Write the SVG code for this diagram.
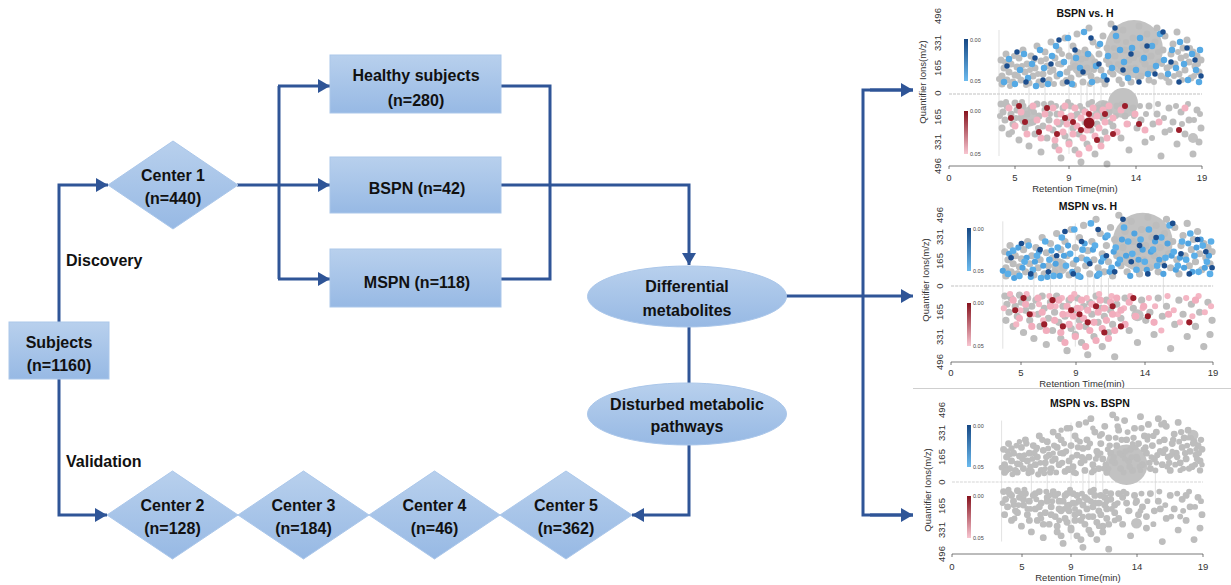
<svg xmlns="http://www.w3.org/2000/svg" width="1231" height="585" viewBox="0 0 1231 585">
<style>
.t{font-family:"Liberation Sans",Arial,sans-serif;font-weight:bold;font-size:16px;fill:#111;text-anchor:middle}
.lab{font-family:"Liberation Sans",Arial,sans-serif;font-weight:bold;font-size:16px;fill:#111}
.node{fill:url(#gb);stroke:#abc7ea;stroke-width:1}
.con{fill:none;stroke:#2F5597;stroke-width:3}
.arr{marker-end:url(#ah)}
.ax{font-family:"Liberation Sans",Arial,sans-serif;font-size:9.5px;fill:#333;text-anchor:middle}
.ttl{font-family:"Liberation Sans",Arial,sans-serif;font-weight:bold;font-size:10.5px;fill:#111;text-anchor:middle}
.cb{font-family:"Liberation Sans",Arial,sans-serif;font-size:5.5px;fill:#444}
.axl{stroke:#555;stroke-width:0.8;fill:none}
.zero{stroke:#d6d6d6;stroke-width:1.3;stroke-dasharray:3 1}
.vl{stroke:#d4d4d4;stroke-width:0.7}
.dot{fill:none;stroke-linecap:round}
.big{fill:#c2c2c2}
</style>
<defs>
<linearGradient id="gb" x1="0" y1="0" x2="0" y2="1"><stop offset="0" stop-color="#b8d0ed"/><stop offset="1" stop-color="#97b9e4"/></linearGradient>
<linearGradient id="cbb" x1="0" y1="0" x2="0" y2="1"><stop offset="0" stop-color="#164884"/><stop offset="1" stop-color="#6cbbef"/></linearGradient>
<linearGradient id="cbr" x1="0" y1="0" x2="0" y2="1"><stop offset="0" stop-color="#86121d"/><stop offset="1" stop-color="#f8c6d1"/></linearGradient>
<marker id="ah" markerUnits="userSpaceOnUse" markerWidth="13" markerHeight="14" refX="12" refY="7" orient="auto"><path d="M0,0 L12,7 L0,14 z" fill="#2F5597"/></marker>
<path id="gu1" class="dot" stroke-width="7" d="M53 -10h0M53 -18h0M55 -26h0M52 -34h0M58 -14h0M60 -22h0M62 -30h0M57 -40h0M64 -12h0M66 -19h0M68 -27h0M70 -36h0M72 -14h0M74 -44h0M76 -22h0M78 -30h0M80 -11h0M82 -38h0M84 -18h0M86 -26h0M88 -48h0M90 -12h0M92 -33h0M94 -20h0M96 -42h0M98 -28h0M100 -14h0M102 -52h0M104 -24h0M106 -36h0M108 -18h0M110 -44h0M112 -30h0M114 -11h0M116 -56h0M118 -22h0M120 -38h0M122 -16h0M124 -48h0M126 -28h0M128 -60h0M130 -20h0M132 -35h0M134 -12h0M136 -44h0M138 -26h0M140 -66h0M142 -18h0M144 -52h0M146 -32h0M148 -14h0M150 -40h0M152 -24h0M154 -58h0M156 -10h0M158 -46h0M160 -30h0M162 -70h0M164 -20h0M166 -38h0M168 -54h0M170 -14h0M172 -28h0M174 -64h0M176 -44h0M178 -22h0M180 -34h0M182 -12h0M184 -56h0M186 -26h0M188 -40h0M190 -68h0M192 -18h0M194 -48h0M196 -30h0M198 -60h0M200 -14h0M202 -38h0M204 -24h0M206 -52h0M208 -66h0M210 -32h0M212 -18h0M214 -44h0M216 -58h0M218 -26h0M220 -12h0M222 -40h0M224 -50h0M226 -30h0M228 -62h0M230 -20h0M232 -36h0M234 -46h0M236 -24h0M238 -54h0M240 -32h0M242 -16h0M244 -42h0M246 -28h0M248 -38h0M250 -22h0M252 -34h0"/>
<path id="gu2" class="dot" stroke-width="6" d="M50 -15h0M56 -32h0M61 -8h0M65 -38h0M69 -18h0M73 -28h0M77 -9h0M81 -24h0M85 -34h0M89 -20h0M93 -9h0M97 -35h0M101 -22h0M105 -10h0M109 -30h0M113 -40h0M117 -14h0M121 -26h0M125 -9h0M129 -42h0M133 -24h0M137 -36h0M141 -10h0M145 -24h0M149 -48h0M153 -14h0M157 -34h0M161 -22h0M165 -46h0M169 -30h0M173 -10h0M177 -52h0M181 -26h0M185 -36h0M189 -16h0M193 -34h0M197 -44h0M201 -26h0M205 -12h0M209 -42h0M213 -30h0M217 -16h0M221 -28h0M225 -18h0M229 -42h0M233 -14h0M237 -38h0M241 -46h0M245 -18h0M249 -30h0"/>
<path id="bl" class="dot" stroke-width="6.5" d="M55 -12h0M60 -35h0M66 -10h0M71 -24h0M75 -40h0M79 -16h0M83 -30h0M87 -8h0M91 -44h0M95 -26h0M99 -10h0M103 -38h0M107 -48h0M111 -20h0M115 -32h0M119 -56h0M123 -10h0M127 -36h0M131 -26h0M135 -62h0M139 -40h0M143 -12h0M147 -28h0M151 -50h0M155 -18h0M159 -38h0M163 -26h0M167 -58h0M171 -44h0M175 -32h0M179 -16h0M183 -46h0M187 -24h0M191 -56h0M195 -36h0M199 -20h0M203 -48h0M207 -28h0M211 -60h0M215 -34h0M219 -20h0M223 -44h0M227 -26h0M231 -52h0M235 -30h0M239 -14h0M243 -40h0M247 -24h0M251 -44h0M250 -12h0"/>
<path id="bd" class="dot" stroke-width="5.5" d="M58 -28h0M68 -42h0M77 -12h0M86 -36h0M94 -14h0M102 -30h0M110 -54h0M118 -12h0M126 -44h0M134 -22h0M142 -56h0M150 -30h0M158 -14h0M166 -66h0M174 -24h0M182 -40h0M190 -12h0M198 -48h0M206 -20h0M214 -62h0M222 -32h0M230 -12h0M238 -46h0M246 -34h0M252 -18h0"/>
<path id="gl1" class="dot" stroke-width="7" d="M52 10h0M54 18h0M56 26h0M53 34h0M58 12h0M60 40h0M62 20h0M64 30h0M66 9h0M68 16h0M70 46h0M72 24h0M74 12h0M76 34h0M78 20h0M80 52h0M82 14h0M84 28h0M86 40h0M88 10h0M90 22h0M92 58h0M94 32h0M96 16h0M98 44h0M100 26h0M102 10h0M104 36h0M106 52h0M108 20h0M110 30h0M112 64h0M114 14h0M116 42h0M118 24h0M120 48h0M122 12h0M124 34h0M126 56h0M128 20h0M130 40h0M132 68h0M134 16h0M136 28h0M138 50h0M140 10h0M142 36h0M144 22h0M146 60h0M148 30h0M150 14h0M152 46h0M154 24h0M156 38h0M158 70h0M160 18h0M164 32h0M168 12h0M172 44h0M176 22h0M180 56h0M184 14h0M188 34h0M192 26h0M196 48h0M200 12h0M204 30h0M208 20h0M212 62h0M216 38h0M220 14h0M224 28h0M228 50h0M232 18h0M236 40h0M240 26h0M244 60h0M248 16h0M252 34h0M250 48h0"/>
<path id="gl2" class="dot" stroke-width="6" d="M51 22h0M57 8h0M63 38h0M67 24h0M73 8h0M79 28h0M85 18h0M89 34h0M95 10h0M101 20h0M107 12h0M113 28h0M119 8h0M125 22h0M131 12h0M137 18h0M143 8h0M149 22h0M155 10h0M161 28h0M167 22h0M173 10h0M179 30h0M185 22h0M191 12h0M197 20h0M203 44h0M209 10h0M215 24h0M221 36h0M227 12h0M233 30h0M239 10h0M245 26h0M251 20h0"/>
<path id="rl" class="dot" stroke-width="7" d="M60 14h0M66 32h0M72 18h0M78 40h0M84 12h0M88 26h0M92 44h0M96 20h0M100 34h0M104 14h0M106 46h0M108 28h0M110 56h0M112 20h0M114 38h0M116 12h0M118 30h0M120 50h0M122 22h0M124 40h0M126 14h0M128 32h0M130 60h0M132 24h0M134 44h0M136 18h0M138 36h0M140 54h0M142 26h0M144 14h0M146 42h0M148 22h0M150 34h0M152 52h0M154 16h0M156 28h0M158 44h0M160 12h0M164 24h0M168 38h0M172 16h0M178 30h0M186 20h0M196 36h0M210 28h0M236 14h0"/>
<path id="rd" class="dot" stroke-width="6" d="M62 24h0M70 12h0M76 28h0M90 38h0M98 14h0M108 40h0M116 24h0M124 28h0M132 36h0M140 20h0M148 46h0M156 20h0M164 40h0M176 12h0M190 30h0M230 36h0"/>
<g id="vlines">
<line class="vl" x1="50" y1="-64" x2="50" y2="62"/>
<line class="vl" x1="120" y1="-62" x2="120" y2="60"/>
<line class="vl" x1="132" y1="-14" x2="132" y2="22"/>
<line class="vl" x1="138" y1="-10" x2="138" y2="30"/>
<line class="vl" x1="145" y1="-16" x2="145" y2="20"/>
<line class="vl" x1="152" y1="-8" x2="152" y2="26"/>
<line class="vl" x1="80" y1="-10" x2="80" y2="16"/>
<line class="vl" x1="96" y1="-8" x2="96" y2="12"/>
<line class="vl" x1="205" y1="-12" x2="205" y2="18"/>
<line class="zero" x1="0" y1="0" x2="253" y2="0"/>
</g>
</defs>

<g id="connectors">
<polyline class="con arr" points="59,322 59,185 108,185"/>
<polyline class="con arr" points="59,379 59,515 107,515"/>
<line class="con" x1="237" y1="185" x2="279" y2="185"/>
<polyline class="con" points="279,86 279,279"/>
<line class="con arr" x1="278" y1="86" x2="330" y2="86"/>
<line class="con arr" x1="279" y1="185" x2="330" y2="185"/>
<line class="con arr" x1="278" y1="279" x2="330" y2="279"/>
<polyline class="con" points="501,86 550,86 550,279 501,279"/>
<polyline class="con arr" points="501,185 689,185 689,265"/>
<line class="con" x1="689" y1="327" x2="689" y2="383"/>
<polyline class="con arr" points="689,445 689,515 632,515"/>
<line class="con arr" x1="786" y1="296" x2="913" y2="296"/>
<polyline class="con" points="913,90 863,90 863,515 913,515"/>
<line class="con arr" x1="870" y1="90" x2="913" y2="90"/>
<line class="con arr" x1="870" y1="515" x2="913" y2="515"/>
</g>

<g id="subjects"><rect class="node" x="9" y="322" width="100" height="57"/><text class="t" x="59" y="347.5">Subjects</text><text class="t" x="59" y="371">(n=1160)</text></g>
<g id="center1"><polygon class="node" points="108,185 173,141 238,185 173,229"/><text class="t" x="173" y="180.5">Center 1</text><text class="t" x="173" y="204">(n=440)</text></g>
<g id="healthy"><rect class="node" x="330" y="55" width="171" height="58"/><text class="t" x="416" y="81">Healthy subjects</text><text class="t" x="416" y="106">(n=280)</text></g>
<g id="bspn"><rect class="node" x="330" y="157" width="171" height="56"/><text class="t" x="417" y="193.5">BSPN (n=42)</text></g>
<g id="mspn"><rect class="node" x="330" y="249" width="171" height="58"/><text class="t" x="417" y="287.5">MSPN (n=118)</text></g>
<g id="diffmet"><ellipse class="node" cx="687" cy="296.5" rx="99.5" ry="30.5"/><text class="t" x="687" y="291.5">Differential</text><text class="t" x="687" y="315.5">metabolites</text></g>
<g id="pathways"><ellipse class="node" cx="687" cy="414" rx="99.5" ry="31"/><text class="t" x="687" y="409.5">Disturbed metabolic</text><text class="t" x="687" y="432">pathways</text></g>
<g id="center2"><polygon class="node" points="107,515 172.5,471 238,515 172.5,559"/><text class="t" x="172.5" y="510.5">Center 2</text><text class="t" x="172.5" y="534">(n=128)</text></g>
<g id="center3"><polygon class="node" points="238,515 303.5,471 369,515 303.5,559"/><text class="t" x="303.5" y="510.5">Center 3</text><text class="t" x="303.5" y="534">(n=184)</text></g>
<g id="center4"><polygon class="node" points="369,515 434.5,471 500,515 434.5,559"/><text class="t" x="434.5" y="510.5">Center 4</text><text class="t" x="434.5" y="534">(n=46)</text></g>
<g id="center5"><polygon class="node" points="500,515 566,471 632,515 566,559"/><text class="t" x="566" y="510.5">Center 5</text><text class="t" x="566" y="534">(n=362)</text></g>
<g id="labels"><text class="lab" x="66" y="266">Discovery</text><text class="lab" x="66" y="467">Validation</text></g>

<g id="plot1">
<g transform="translate(949,94)">
<use href="#vlines"/>
<circle class="big" cx="185" cy="-45" r="29"/>
<circle class="big" cx="134" cy="-31" r="13"/>
<circle class="big" cx="174" cy="9" r="15"/>
<circle class="big" cx="154" cy="16" r="10"/>
<circle class="big" cx="79" cy="23" r="10"/>
<circle class="big" cx="244" cy="44" r="5"/>
<use href="#gu1" stroke="#bdbdbd"/>
<use href="#gu2" stroke="#bdbdbd"/>
<use href="#gl1" stroke="#bdbdbd"/>
<use href="#gl2" stroke="#bdbdbd"/>
<use href="#bl" stroke="#55a9e4"/>
<use href="#bd" stroke="#1c4e8e"/>
<use href="#rl" stroke="#f3b1c0"/>
<use href="#rd" stroke="#9c1e2b"/>
<circle cx="140" cy="29" r="5.5" fill="#8e1420"/>
</g>
<line class="axl" x1="949" y1="166" x2="1202" y2="166"/>
<path class="axl" d="M949 166v3M1015 166v3M1069 166v3M1136 166v3M1202 166v3"/>
<text class="ax" x="949" y="180.5">0</text><text class="ax" x="1015" y="180.5">5</text><text class="ax" x="1069" y="180.5">9</text><text class="ax" x="1136" y="180.5">14</text><text class="ax" x="1202" y="180.5">19</text>
<text class="ax" x="1075" y="191.5">Retention Time(min)</text>
<text class="ax" transform="translate(941,16) rotate(-90)">496</text>
<text class="ax" transform="translate(941,43) rotate(-90)">331</text>
<text class="ax" transform="translate(941,68) rotate(-90)">165</text>
<text class="ax" transform="translate(941,93) rotate(-90)">0</text>
<text class="ax" transform="translate(941,117) rotate(-90)">165</text>
<text class="ax" transform="translate(941,142) rotate(-90)">331</text>
<text class="ax" transform="translate(941,166) rotate(-90)">496</text>
<text class="ax" transform="translate(926,82) rotate(-90)">Quantifier Ions(m/z)</text>
<text class="ttl" x="1085" y="17">BSPN vs. H</text>
<rect x="964" y="39" width="4" height="42" fill="url(#cbb)"/>
<rect x="964" y="111" width="4" height="43" fill="url(#cbr)"/>
<text class="cb" x="970" y="42">0.00</text><text class="cb" x="970" y="83">0.05</text>
<text class="cb" x="970" y="113">0.00</text><text class="cb" x="970" y="156">0.05</text>
</g>

<g id="plot2">
<g transform="translate(951,286) scale(1.036,1.01)">
<use href="#vlines"/>
<circle class="big" cx="185" cy="-43.5" r="29"/>
<circle class="big" cx="105" cy="-19" r="8"/>
<circle class="big" cx="180" cy="29" r="6"/>
<use href="#gu1" stroke="#bdbdbd"/>
<use href="#gl1" stroke="#bdbdbd"/>
<use href="#gu2" stroke="#4fa3e0"/>
<use href="#bl" stroke="#5aaee8"/>
<use href="#bd" stroke="#1c4e8e"/>
<use href="#gl2" stroke="#f4b6c4"/>
<use href="#rl" stroke="#f2adbd"/>
<use href="#rd" stroke="#9c1e2b"/>
</g>
<line class="axl" x1="951" y1="362" x2="1213" y2="362"/>
<path class="axl" d="M951 362v3M1021 362v3M1076 362v3M1145 362v3M1213 362v3"/>
<text class="ax" x="951" y="376">0</text><text class="ax" x="1021" y="376">5</text><text class="ax" x="1076" y="376">9</text><text class="ax" x="1145" y="376">14</text><text class="ax" x="1213" y="376">19</text>
<text class="ax" x="1082" y="386.5">Retention Time(min)</text>
<text class="ax" transform="translate(943,215) rotate(-90)">496</text>
<text class="ax" transform="translate(943,237) rotate(-90)">331</text>
<text class="ax" transform="translate(943,261) rotate(-90)">165</text>
<text class="ax" transform="translate(943,286) rotate(-90)">0</text>
<text class="ax" transform="translate(943,312) rotate(-90)">165</text>
<text class="ax" transform="translate(943,337) rotate(-90)">331</text>
<text class="ax" transform="translate(943,362) rotate(-90)">496</text>
<text class="ax" transform="translate(929,280) rotate(-90)">Quantifier Ions(m/z)</text>
<text class="ttl" x="1088" y="210">MSPN vs. H</text>
<rect x="967" y="228" width="4" height="43" fill="url(#cbb)"/>
<rect x="967" y="303" width="4" height="43" fill="url(#cbr)"/>
<text class="cb" x="973" y="231">0.00</text><text class="cb" x="973" y="273">0.05</text>
<text class="cb" x="973" y="305">0.00</text><text class="cb" x="973" y="348">0.05</text>
</g>

<line x1="913" y1="388.5" x2="1231" y2="388.5" stroke="#cfcfcf" stroke-width="1"/>

<g id="plot3">
<g transform="translate(952,482) scale(0.992,0.96)">
<use href="#vlines"/>
<circle class="big" cx="176" cy="-18" r="21"/>
<circle class="big" cx="243" cy="-49" r="5.5"/>
<circle class="big" cx="186" cy="43" r="5.5"/>
<use href="#gu1" stroke="#bdbdbd"/>
<use href="#gu2" stroke="#bdbdbd"/>
<use href="#bl" stroke="#bdbdbd"/>
<use href="#bd" stroke="#bdbdbd"/>
<use href="#gl1" stroke="#bdbdbd"/>
<use href="#gl2" stroke="#bdbdbd"/>
<use href="#rl" stroke="#bdbdbd"/>
<use href="#rd" stroke="#bdbdbd"/>
</g>
<line class="axl" x1="952" y1="554" x2="1203" y2="554"/>
<path class="axl" d="M952 554v3M1022 554v3M1071 554v3M1137 554v3M1203 554v3"/>
<text class="ax" x="952" y="570">0</text><text class="ax" x="1022" y="570">5</text><text class="ax" x="1071" y="570">9</text><text class="ax" x="1137" y="570">14</text><text class="ax" x="1203" y="570">19</text>
<text class="ax" x="1078" y="581">Retention Time(min)</text>
<text class="ax" transform="translate(945,410) rotate(-90)">496</text>
<text class="ax" transform="translate(945,433) rotate(-90)">331</text>
<text class="ax" transform="translate(945,457) rotate(-90)">165</text>
<text class="ax" transform="translate(945,482) rotate(-90)">0</text>
<text class="ax" transform="translate(945,506) rotate(-90)">165</text>
<text class="ax" transform="translate(945,530) rotate(-90)">331</text>
<text class="ax" transform="translate(945,554) rotate(-90)">496</text>
<text class="ax" transform="translate(931,490) rotate(-90)">Quantifier Ions(m/z)</text>
<text class="ttl" x="1090" y="407">MSPN vs. BSPN</text>
<rect x="967" y="425" width="4" height="42" fill="url(#cbb)"/>
<rect x="967" y="496" width="4" height="42" fill="url(#cbr)"/>
<text class="cb" x="973" y="428">0.00</text><text class="cb" x="973" y="469">0.05</text>
<text class="cb" x="973" y="498">0.00</text><text class="cb" x="973" y="540">0.05</text>
</g>
</svg>
